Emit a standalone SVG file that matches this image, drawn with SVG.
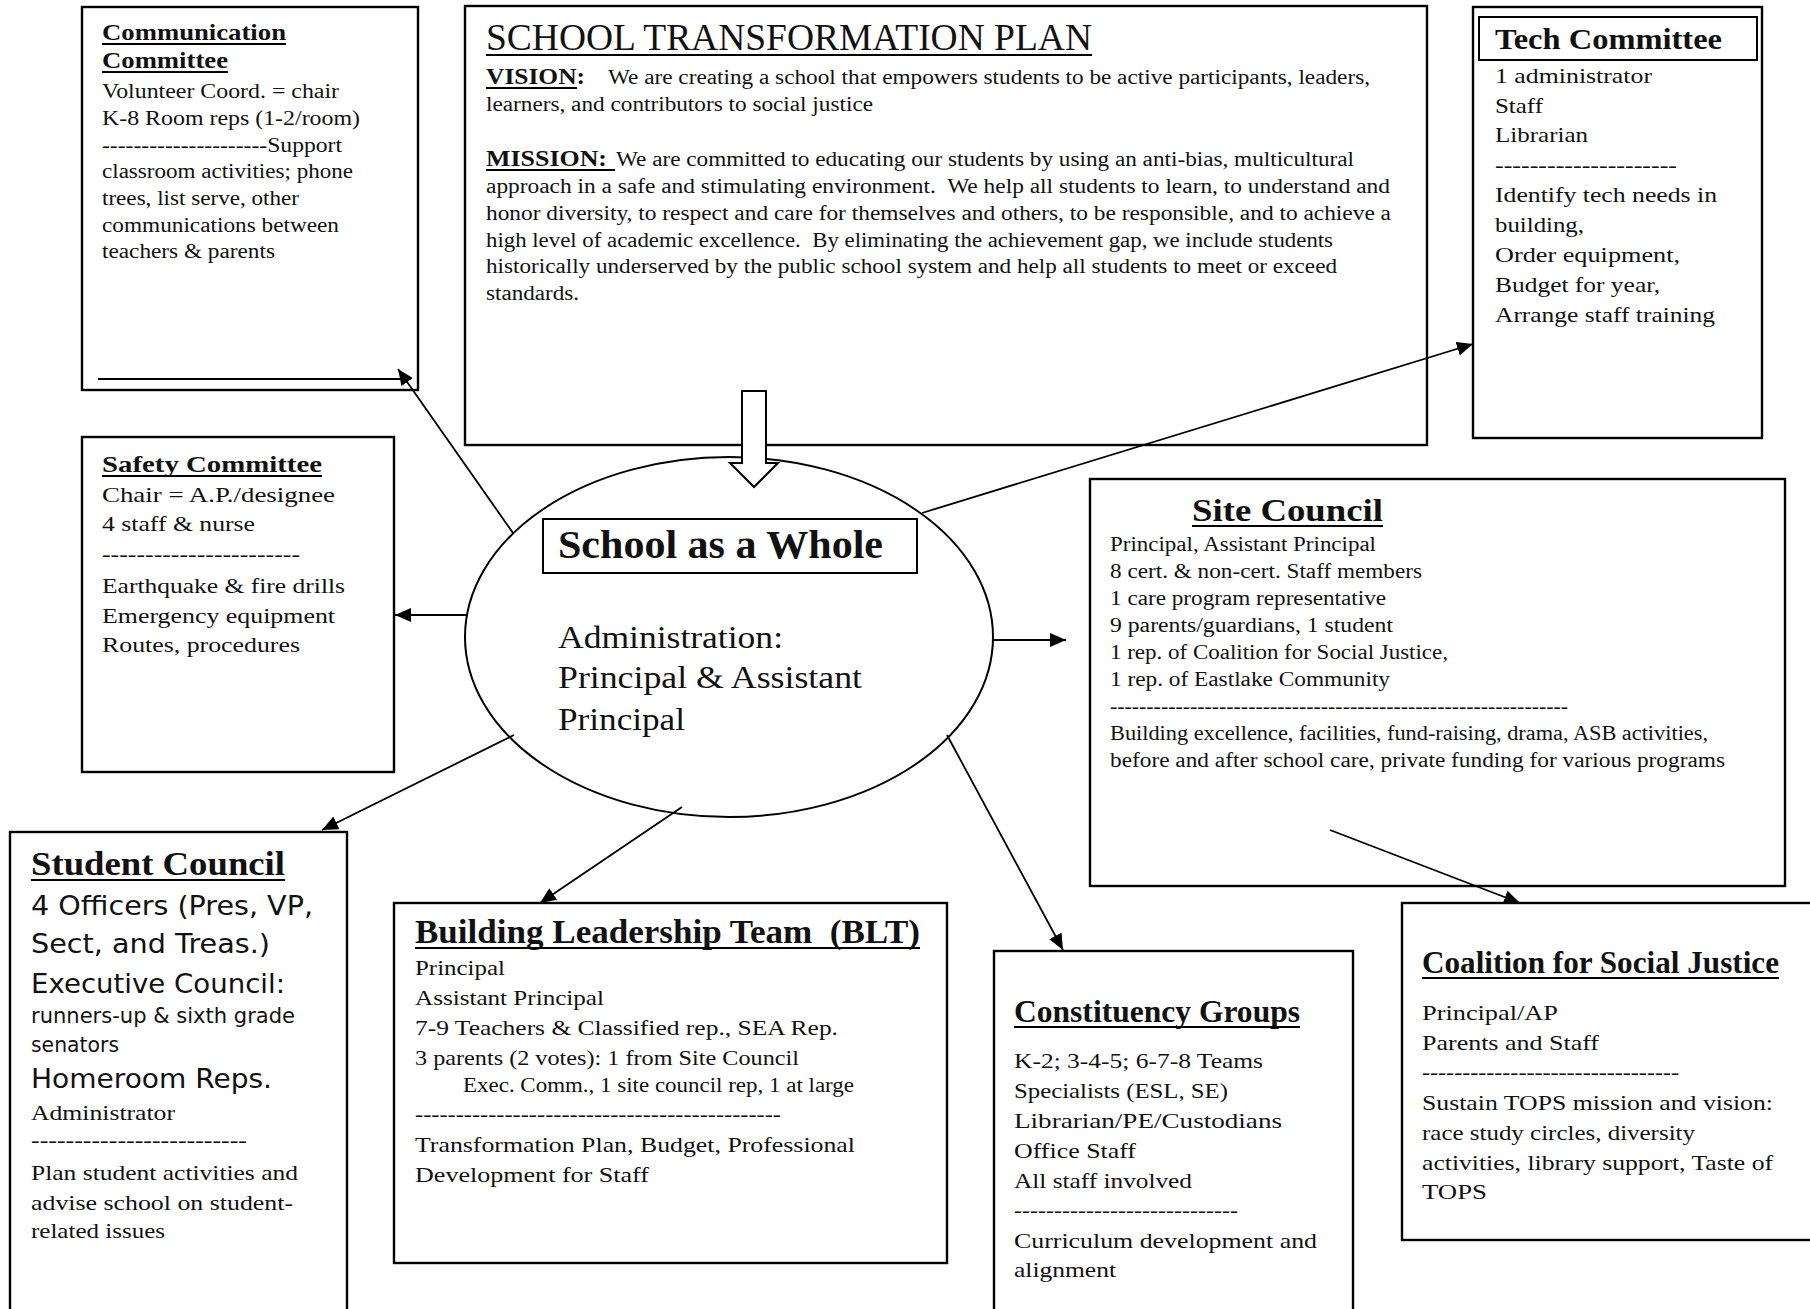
<svg xmlns="http://www.w3.org/2000/svg" width="1810" height="1309" viewBox="0 0 1810 1309">
<style>
.box{fill:#fff;stroke:#000;stroke-width:2.4}
.tbox{fill:#fff;stroke:#000;stroke-width:2}
.ul{stroke:#000;stroke-width:2}
.con{stroke:#000;stroke-width:1.8;fill:none;marker-end:url(#ah)}
text{fill:#111}
.r{font-family:'Liberation Serif','Times New Roman',serif}
.b{font-family:'Liberation Serif','Times New Roman',serif;font-weight:bold}
.s{font-family:'DejaVu Sans','Liberation Sans',sans-serif}
.f20{font-size:20px}.f22{font-size:22px}
</style>
<defs>
<marker id="ah" markerUnits="userSpaceOnUse" markerWidth="16" markerHeight="14" refX="16" refY="7" orient="auto">
<path d="M0,0 L16,7 L0,14 z" fill="#000"/>
</marker>
</defs>
<rect width="1810" height="1309" fill="#fff"/>

<g id="communication-committee">
<rect class="box" x="82" y="7" width="336" height="383"/>
<text class="b" font-size="24" x="102" y="40" textLength="184" lengthAdjust="spacingAndGlyphs">Communication</text>
<line class="ul" x1="102" y1="44" x2="286" y2="44"/>
<text class="b" font-size="24" x="102" y="68" textLength="126" lengthAdjust="spacingAndGlyphs">Committee</text>
<line class="ul" x1="102" y1="72" x2="228" y2="72"/>
<g class="r f20">
<text x="102" y="98" textLength="237" lengthAdjust="spacingAndGlyphs">Volunteer Coord. = chair</text>
<text x="102" y="125" textLength="258" lengthAdjust="spacingAndGlyphs">K-8 Room reps (1-2/room)</text>
<text x="102" y="152" textLength="240" lengthAdjust="spacingAndGlyphs">---------------------Support</text>
<text x="102" y="178" textLength="251" lengthAdjust="spacingAndGlyphs">classroom activities; phone</text>
<text x="102" y="205" textLength="197" lengthAdjust="spacingAndGlyphs">trees, list serve, other</text>
<text x="102" y="232" textLength="237" lengthAdjust="spacingAndGlyphs">communications between</text>
<text x="102" y="258" textLength="173" lengthAdjust="spacingAndGlyphs">teachers &amp; parents</text>
</g>
<line x1="98" y1="379" x2="405" y2="379" stroke="#000" stroke-width="2"/>
</g>

<g id="transformation-plan">
<rect class="box" x="465" y="6" width="962" height="439"/>
<text class="r" font-size="37" x="486" y="50" textLength="606" lengthAdjust="spacingAndGlyphs">SCHOOL TRANSFORMATION PLAN</text>
<line class="ul" x1="486" y1="55" x2="1092" y2="55"/>
<text class="b" font-size="23" x="486" y="84" textLength="99" lengthAdjust="spacingAndGlyphs">VISION:</text>
<line class="ul" x1="486" y1="88" x2="577" y2="88"/>
<g class="r f20">
<text x="608" y="84" textLength="762" lengthAdjust="spacingAndGlyphs">We are creating a school that empowers students to be active participants, leaders,</text>
<text x="486" y="111" textLength="387" lengthAdjust="spacingAndGlyphs">learners, and contributors to social justice</text>
<text x="616" y="166" textLength="738" lengthAdjust="spacingAndGlyphs">We are committed to educating our students by using an anti-bias, multicultural</text>
<text x="486" y="193" textLength="904" lengthAdjust="spacingAndGlyphs">approach in a safe and stimulating environment.&#160; We help all students to learn, to understand and</text>
<text x="486" y="220" textLength="905" lengthAdjust="spacingAndGlyphs">honor diversity, to respect and care for themselves and others, to be responsible, and to achieve a</text>
<text x="486" y="247" textLength="847" lengthAdjust="spacingAndGlyphs">high level of academic excellence.&#160; By eliminating the achievement gap, we include students</text>
<text x="486" y="273" textLength="851" lengthAdjust="spacingAndGlyphs">historically underserved by the public school system and help all students to meet or exceed</text>
<text x="486" y="300" textLength="93" lengthAdjust="spacingAndGlyphs">standards.</text>
</g>
<text class="b" font-size="23" x="486" y="166" textLength="121" lengthAdjust="spacingAndGlyphs">MISSION:</text>
<line class="ul" x1="486" y1="170" x2="615" y2="170"/>
</g>

<g id="tech-committee">
<rect class="box" x="1473" y="7" width="289" height="431"/>
<rect class="tbox" x="1479" y="17" width="278" height="43"/>
<text class="b" font-size="29" x="1495" y="49" textLength="227" lengthAdjust="spacingAndGlyphs">Tech Committee</text>
<g class="r f22">
<text x="1495" y="83" textLength="157" lengthAdjust="spacingAndGlyphs">1 administrator</text>
<text x="1495" y="113" textLength="48" lengthAdjust="spacingAndGlyphs">Staff</text>
<text x="1495" y="142" textLength="93" lengthAdjust="spacingAndGlyphs">Librarian</text>
<text x="1495" y="172" textLength="182" lengthAdjust="spacingAndGlyphs">---------------------</text>
<text x="1495" y="202" textLength="222" lengthAdjust="spacingAndGlyphs">Identify tech needs in</text>
<text x="1495" y="232" textLength="89" lengthAdjust="spacingAndGlyphs">building,</text>
<text x="1495" y="262" textLength="185" lengthAdjust="spacingAndGlyphs">Order equipment,</text>
<text x="1495" y="292" textLength="165" lengthAdjust="spacingAndGlyphs">Budget for year,</text>
<text x="1495" y="322" textLength="220" lengthAdjust="spacingAndGlyphs">Arrange staff training</text>
</g>
</g>

<g id="safety-committee">
<rect class="box" x="82" y="437" width="312" height="335"/>
<text class="b" font-size="24" x="102" y="472" textLength="220" lengthAdjust="spacingAndGlyphs">Safety Committee</text>
<line class="ul" x1="102" y1="476" x2="322" y2="476"/>
<g class="r f22">
<text x="102" y="502" textLength="233" lengthAdjust="spacingAndGlyphs">Chair = A.P./designee</text>
<text x="102" y="531" textLength="153" lengthAdjust="spacingAndGlyphs">4 staff &amp; nurse</text>
<text x="102" y="561" textLength="198" lengthAdjust="spacingAndGlyphs">-----------------------</text>
<text x="102" y="593" textLength="243" lengthAdjust="spacingAndGlyphs">Earthquake &amp; fire drills</text>
<text x="102" y="623" textLength="233" lengthAdjust="spacingAndGlyphs">Emergency equipment</text>
<text x="102" y="652" textLength="198" lengthAdjust="spacingAndGlyphs">Routes, procedures</text>
</g>
</g>

<g id="site-council">
<rect class="box" x="1090" y="479" width="695" height="407"/>
<text class="b" font-size="32" x="1192" y="521" textLength="191" lengthAdjust="spacingAndGlyphs">Site Council</text>
<line class="ul" x1="1192" y1="526" x2="1383" y2="526"/>
<g class="r f20">
<text x="1110" y="551" textLength="266" lengthAdjust="spacingAndGlyphs">Principal, Assistant Principal</text>
<text x="1110" y="578" textLength="312" lengthAdjust="spacingAndGlyphs">8 cert. &amp; non-cert. Staff members</text>
<text x="1110" y="605" textLength="276" lengthAdjust="spacingAndGlyphs">1 care program representative</text>
<text x="1110" y="632" textLength="283" lengthAdjust="spacingAndGlyphs">9 parents/guardians, 1 student</text>
<text x="1110" y="659" textLength="338" lengthAdjust="spacingAndGlyphs">1 rep. of Coalition for Social Justice,</text>
<text x="1110" y="686" textLength="280" lengthAdjust="spacingAndGlyphs">1 rep. of Eastlake Community</text>
<text x="1110" y="713" textLength="458" lengthAdjust="spacingAndGlyphs">---------------------------------------------------------------</text>
<text x="1110" y="740" textLength="598" lengthAdjust="spacingAndGlyphs">Building excellence, facilities, fund-raising, drama, ASB activities,</text>
<text x="1110" y="767" textLength="615" lengthAdjust="spacingAndGlyphs">before and after school care, private funding for various programs</text>
</g>
</g>

<g id="student-council">
<rect class="box" x="10" y="832" width="337" height="500"/>
<text class="b" font-size="34" x="31" y="875" textLength="254" lengthAdjust="spacingAndGlyphs">Student Council</text>
<line class="ul" x1="31" y1="880" x2="285" y2="880"/>
<text class="s" font-size="27" x="31" y="915" textLength="282" lengthAdjust="spacingAndGlyphs">4 Officers (Pres, VP,</text>
<text class="s" font-size="27" x="31" y="953" textLength="239" lengthAdjust="spacingAndGlyphs">Sect, and Treas.)</text>
<text class="s" font-size="27" x="31" y="993" textLength="254" lengthAdjust="spacingAndGlyphs">Executive Council:</text>
<text class="s" font-size="21" x="31" y="1023" textLength="264" lengthAdjust="spacingAndGlyphs">runners-up &amp; sixth grade</text>
<text class="s" font-size="21" x="31" y="1052" textLength="88" lengthAdjust="spacingAndGlyphs">senators</text>
<text class="s" font-size="27" x="31" y="1088" textLength="241" lengthAdjust="spacingAndGlyphs">Homeroom Reps.</text>
<g class="r f22">
<text x="31" y="1120" textLength="144" lengthAdjust="spacingAndGlyphs">Administrator</text>
<text x="31" y="1147" textLength="216" lengthAdjust="spacingAndGlyphs">-------------------------</text>
<text x="31" y="1180" textLength="267" lengthAdjust="spacingAndGlyphs">Plan student activities and</text>
<text x="31" y="1210" textLength="262" lengthAdjust="spacingAndGlyphs">advise school on student-</text>
<text x="31" y="1238" textLength="134" lengthAdjust="spacingAndGlyphs">related issues</text>
</g>
</g>

<g id="blt">
<rect class="box" x="394" y="903" width="553" height="360"/>
<text class="b" font-size="34" x="415" y="943" textLength="505" lengthAdjust="spacingAndGlyphs">Building Leadership Team &#160;(BLT)</text>
<line class="ul" x1="415" y1="948" x2="920" y2="948"/>
<g class="r f22">
<text x="415" y="975" textLength="90" lengthAdjust="spacingAndGlyphs">Principal</text>
<text x="415" y="1005" textLength="189" lengthAdjust="spacingAndGlyphs">Assistant Principal</text>
<text x="415" y="1035" textLength="423" lengthAdjust="spacingAndGlyphs">7-9 Teachers &amp; Classified rep., SEA Rep.</text>
<text x="415" y="1065" textLength="384" lengthAdjust="spacingAndGlyphs">3 parents (2 votes): 1 from Site Council</text>
<text x="415" y="1121" textLength="366" lengthAdjust="spacingAndGlyphs">---------------------------------------------</text>
<text x="415" y="1152" textLength="440" lengthAdjust="spacingAndGlyphs">Transformation Plan, Budget, Professional</text>
<text x="415" y="1182" textLength="234" lengthAdjust="spacingAndGlyphs">Development for Staff</text>
</g>
<text class="r f20" x="463" y="1092" textLength="391" lengthAdjust="spacingAndGlyphs">Exec. Comm., 1 site council rep, 1 at large</text>
</g>

<g id="constituency-groups">
<rect class="box" x="994" y="951" width="359" height="400"/>
<text class="b" font-size="32" x="1014" y="1022" textLength="286" lengthAdjust="spacingAndGlyphs">Constituency Groups</text>
<line class="ul" x1="1014" y1="1027" x2="1300" y2="1027"/>
<g class="r f22">
<text x="1014" y="1068" textLength="249" lengthAdjust="spacingAndGlyphs">K-2; 3-4-5; 6-7-8 Teams</text>
<text x="1014" y="1098" textLength="214" lengthAdjust="spacingAndGlyphs">Specialists (ESL, SE)</text>
<text x="1014" y="1128" textLength="268" lengthAdjust="spacingAndGlyphs">Librarian/PE/Custodians</text>
<text x="1014" y="1158" textLength="122" lengthAdjust="spacingAndGlyphs">Office Staff</text>
<text x="1014" y="1188" textLength="178" lengthAdjust="spacingAndGlyphs">All staff involved</text>
<text x="1014" y="1217" textLength="224" lengthAdjust="spacingAndGlyphs">----------------------------</text>
<text x="1014" y="1248" textLength="303" lengthAdjust="spacingAndGlyphs">Curriculum development and</text>
<text x="1014" y="1277" textLength="102" lengthAdjust="spacingAndGlyphs">alignment</text>
</g>
</g>

<g id="coalition">
<rect class="box" x="1402" y="903" width="420" height="337"/>
<text class="b" font-size="32" x="1422" y="973" textLength="357" lengthAdjust="spacingAndGlyphs">Coalition for Social Justice</text>
<line class="ul" x1="1422" y1="978" x2="1779" y2="978"/>
<g class="r f22">
<text x="1422" y="1020" textLength="136" lengthAdjust="spacingAndGlyphs">Principal/AP</text>
<text x="1422" y="1050" textLength="177" lengthAdjust="spacingAndGlyphs">Parents and Staff</text>
<text x="1422" y="1079" textLength="257" lengthAdjust="spacingAndGlyphs">--------------------------------</text>
<text x="1422" y="1110" textLength="351" lengthAdjust="spacingAndGlyphs">Sustain TOPS mission and vision:</text>
<text x="1422" y="1140" textLength="273" lengthAdjust="spacingAndGlyphs">race study circles, diversity</text>
<text x="1422" y="1170" textLength="351" lengthAdjust="spacingAndGlyphs">activities, library support, Taste of</text>
<text x="1422" y="1199" textLength="65" lengthAdjust="spacingAndGlyphs">TOPS</text>
</g>
</g>

<g id="school-as-a-whole">
<ellipse cx="729" cy="637" rx="264" ry="180" fill="#fff" stroke="#000" stroke-width="2"/>
<rect class="tbox" x="543" y="519" width="374" height="54"/>
<text class="b" font-size="40" x="558" y="558" textLength="325" lengthAdjust="spacingAndGlyphs">School as a Whole</text>
<text class="r" font-size="32" x="558" y="648" textLength="225" lengthAdjust="spacingAndGlyphs">Administration:</text>
<text class="r" font-size="32" x="558" y="688" textLength="304" lengthAdjust="spacingAndGlyphs">Principal &amp; Assistant</text>
<text class="r" font-size="32" x="558" y="730" textLength="127" lengthAdjust="spacingAndGlyphs">Principal</text>
</g>

<g id="connectors">
<polygon points="742,391 766,391 766,463 778,463 754,487 730,463 742,463" fill="#fff" stroke="#000" stroke-width="2"/>
<line class="con" x1="513" y1="533" x2="398" y2="369"/>
<line class="con" x1="467" y1="615" x2="395" y2="615"/>
<line class="con" x1="514" y1="735" x2="322" y2="830"/>
<line class="con" x1="682" y1="807" x2="540" y2="903"/>
<line class="con" x1="947" y1="735" x2="1063" y2="950"/>
<line class="con" x1="993" y1="640" x2="1066" y2="640"/>
<line class="con" x1="922" y1="513" x2="1473" y2="344"/>
<line class="con" x1="1330" y1="830" x2="1520" y2="903"/>
</g>
</svg>
